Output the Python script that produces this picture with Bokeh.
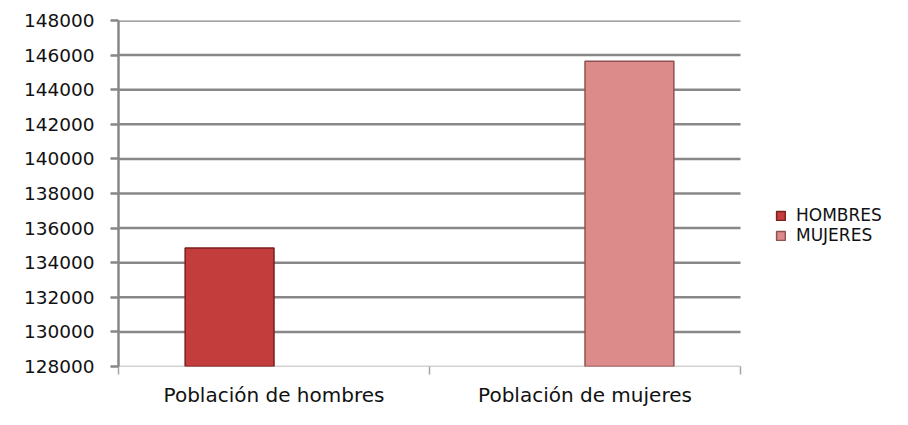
import numpy as np
from bokeh.plotting import figure
from bokeh.models import (ColumnDataSource, Range1d, FixedTicker, Legend, LegendItem,
                          NumeralTickFormatter)
from bokeh.transform import dodge
from bokeh.embed import file_html
from bokeh.resources import INLINE

categories = ["Población de hombres", "Población de mujeres"]
series_names = ["HOMBRES", "MUJERES"]
hombres = [134850, np.nan]
mujeres = [np.nan, 145650]
y_ticks = list(range(128000, 148001, 2000))

FONT = "DejaVu Sans"
GRID = "#878787"
AXIS = "#a6a6a6"

W, H = 892, 409
LEFT, TOP, BOTTOM = 118, 20, 40
CAT_PX = 622  # width of the category area in pixels
n = len(categories)
x_end = n * (W - LEFT) / CAT_PX

x_center = np.arange(n) + 0.5
src = ColumnDataSource(dict(x=x_center, hombres=hombres, mujeres=mujeres,
                            base=[y_ticks[0]] * n))

p = figure(width=W, height=H, output_backend="svg", toolbar_location=None,
           x_range=Range1d(0, x_end), y_range=Range1d(y_ticks[0], y_ticks[-1]),
           min_border_left=LEFT, min_border_top=TOP, min_border_right=0,
           min_border_bottom=BOTTOM)
p.outline_line_color = None
p.background_fill_color = "white"
p.border_fill_color = "white"
p.xgrid.grid_line_color = None
p.ygrid.grid_line_color = None

# horizontal gridlines only over the category area
grid_y = y_ticks[1:]
p.segment(x0=[0] * len(grid_y), x1=[n] * len(grid_y), y0=grid_y, y1=grid_y,
          line_color=GRID, line_width=2.5)
# category axis line
p.segment(x0=[0], x1=[n], y0=[y_ticks[0]], y1=[y_ticks[0]], line_color=AXIS, line_width=1.5)

bw = 1 / 3.5
r1 = p.vbar(x=dodge("x", -bw / 2, range=p.x_range), top="hombres", bottom="base", width=bw,
            source=src, fill_color="#c23d3c", line_color="#7a1e1e", line_width=1.5)
r2 = p.vbar(x=dodge("x", bw / 2, range=p.x_range), top="mujeres", bottom="base", width=bw,
            source=src, fill_color="#dc8a8a", line_color="#8f5252", line_width=1.5)

# y axis
p.yaxis.ticker = FixedTicker(ticks=y_ticks)
p.yaxis.formatter = NumeralTickFormatter(format="0")
p.yaxis.major_label_text_font = FONT
p.yaxis.major_label_text_font_size = "18.5px"
p.yaxis.major_label_text_color = "#111111"
p.yaxis.axis_line_color = GRID
p.yaxis.axis_line_width = 2.5
p.yaxis.major_tick_line_color = GRID
p.yaxis.major_tick_line_width = 2.5
p.yaxis.major_tick_out = 8
p.yaxis.major_tick_in = 0
p.yaxis.minor_tick_line_color = None
p.yaxis.major_label_standoff = 16

# x axis
p.xaxis.ticker = FixedTicker(ticks=list(x_center), minor_ticks=list(range(n + 1)))
p.xaxis.major_label_overrides = {float(c): lab for c, lab in zip(x_center, categories)}
p.xaxis.major_label_text_font = FONT
p.xaxis.major_label_text_font_size = "20px"
p.xaxis.major_label_text_color = "#111111"
p.xaxis.major_label_standoff = 8
p.xaxis.axis_line_color = None
p.xaxis.major_tick_line_color = None
p.xaxis.minor_tick_line_color = AXIS
p.xaxis.minor_tick_line_width = 1.5
p.xaxis.minor_tick_out = 8
p.xaxis.minor_tick_in = 0

legend = Legend(items=[LegendItem(label=series_names[0], renderers=[r1]),
                       LegendItem(label=series_names[1], renderers=[r2])],
                location=(657, 121), orientation="vertical",
                label_text_font=FONT, label_text_font_size="17px",
                label_text_color="#111111", glyph_width=11, glyph_height=11,
                label_standoff=10, spacing=0, label_height=16, padding=0, margin=0,
                border_line_color=None, background_fill_alpha=0)
p.add_layout(legend, "center")

open("out.html", "w").write(file_html(p, INLINE))
